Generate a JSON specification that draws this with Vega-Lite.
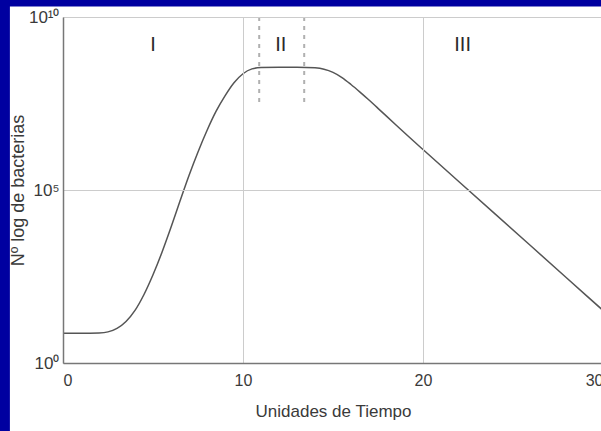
{
  "$schema": "https://vega.github.io/schema/vega-lite/v6.json",
  "autosize": "none",
  "width": 540,
  "height": 346,
  "padding": {"left": 63, "top": 17, "right": -2, "bottom": 68},
  "background": "#0000A0",
  "config": {
    "view": {"stroke": "#888888", "strokeWidth": 1.5},
    "font": "Liberation Sans"
  },
  "datasets": {
    "curve": [
      {"t": 0, "logN": 0.86}, {"t": 1, "logN": 0.86}, {"t": 2, "logN": 0.87},
      {"t": 2.5, "logN": 0.9}, {"t": 3, "logN": 1.0}, {"t": 3.5, "logN": 1.2},
      {"t": 4, "logN": 1.52}, {"t": 4.5, "logN": 1.98}, {"t": 5, "logN": 2.55},
      {"t": 5.5, "logN": 3.2}, {"t": 6, "logN": 3.92}, {"t": 6.5, "logN": 4.68},
      {"t": 7, "logN": 5.42}, {"t": 7.5, "logN": 6.1}, {"t": 8, "logN": 6.72},
      {"t": 8.5, "logN": 7.27}, {"t": 9, "logN": 7.72}, {"t": 9.5, "logN": 8.1},
      {"t": 10, "logN": 8.36}, {"t": 10.5, "logN": 8.5}, {"t": 11, "logN": 8.54},
      {"t": 12, "logN": 8.55}, {"t": 13, "logN": 8.55}, {"t": 14, "logN": 8.53},
      {"t": 14.5, "logN": 8.49}, {"t": 15, "logN": 8.4}, {"t": 15.5, "logN": 8.25},
      {"t": 16, "logN": 8.05}, {"t": 16.5, "logN": 7.83}, {"t": 17, "logN": 7.6},
      {"t": 17.5, "logN": 7.36}, {"t": 18, "logN": 7.12}, {"t": 18.5, "logN": 6.88},
      {"t": 19, "logN": 6.64}, {"t": 20, "logN": 6.17},
      {"t": 22, "logN": 5.24}, {"t": 24, "logN": 4.31}, {"t": 26, "logN": 3.38},
      {"t": 28, "logN": 2.45}, {"t": 30, "logN": 1.52}
    ],
    "dashes": [
      {"t": 10.9, "top": 10, "bottom": 7.5},
      {"t": 13.4, "top": 10, "bottom": 7.5}
    ],
    "phases": [
      {"t": 5.0, "logN": 9.2, "label": "I"},
      {"t": 12.1, "logN": 9.2, "label": "II"},
      {"t": 22.2, "logN": 9.2, "label": "III"}
    ]
  },
  "encoding": {
    "x": {
      "type": "quantitative",
      "scale": {"domain": [0, 30], "nice": false, "zero": false},
      "axis": {
        "values": [0, 10, 20, 30],
        "title": "Unidades de Tiempo",
        "grid": true,
        "gridColor": "#cccccc",
        "gridWidth": 1,
        "domainColor": "#777777",
        "domainWidth": 1.5,
        "ticks": false,
        "labelPadding": 9,
        "labelFontSize": 16,
        "labelColor": "#3a3a3a",
        "titleFontSize": 17,
        "titleFontWeight": "normal",
        "titleColor": "#3a3a3a",
        "titlePadding": 15,
        "zindex": 1
      }
    },
    "y": {
      "type": "quantitative",
      "scale": {"domain": [0, 10], "nice": false, "zero": false},
      "axis": {
        "values": [0, 5, 10],
        "labelExpr": "datum.value == 0 ? '10⁰' : datum.value == 5 ? '10⁵' : '10¹⁰'",
        "title": "Nº log de bacterias",
        "grid": true,
        "gridColor": "#cccccc",
        "gridWidth": 1,
        "domainColor": "#777777",
        "domainWidth": 1.5,
        "ticks": false,
        "labelPadding": 4,
        "labelFontSize": 17,
        "labelColor": "#3a3a3a",
        "titleFontSize": 18,
        "titleFontWeight": "normal",
        "titleColor": "#3a3a3a",
        "titlePadding": 1,
        "zindex": 1
      }
    }
  },
  "layer": [
    {
      "data": {"values": [{}]},
      "mark": {"type": "rect", "fill": "white", "clip": false},
      "encoding": {
        "x": {"datum": -2.95, "type": "quantitative"},
        "x2": {"datum": 40},
        "y": {"datum": -2.5, "type": "quantitative"},
        "y2": {"datum": 10.3}
      }
    },
    {
      "data": {"name": "curve"},
      "mark": {"type": "line", "color": "#555555", "strokeWidth": 1.5, "interpolate": "monotone"},
      "encoding": {
        "x": {"field": "t"},
        "y": {"field": "logN"}
      }
    },
    {
      "data": {"name": "dashes"},
      "mark": {"type": "rule", "color": "#b0b0b0", "strokeWidth": 2, "strokeDash": [4, 5]},
      "encoding": {
        "x": {"field": "t"},
        "y": {"field": "top"},
        "y2": {"field": "bottom"}
      }
    },
    {
      "data": {"name": "phases"},
      "mark": {"type": "text", "fontSize": 20, "color": "#2a2a2a", "align": "center", "baseline": "middle"},
      "encoding": {
        "x": {"field": "t"},
        "y": {"field": "logN"},
        "text": {"field": "label"}
      }
    }
  ]
}
